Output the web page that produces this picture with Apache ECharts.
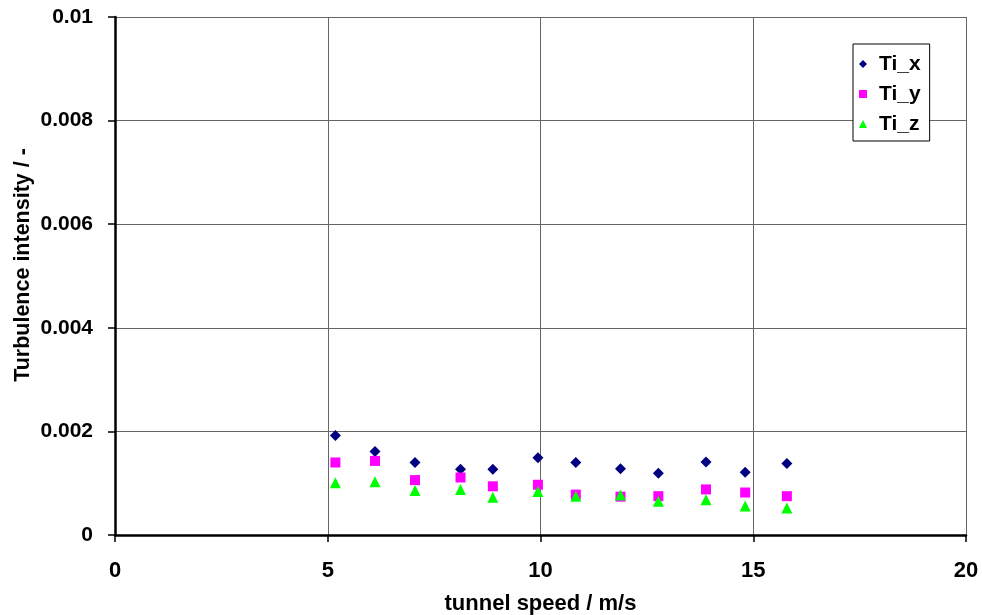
<!DOCTYPE html>
<html>
<head>
<meta charset="utf-8">
<script src="https://cdn.jsdelivr.net/npm/echarts@6/dist/echarts.min.js"></script>
<style>html,body{margin:0;padding:0;background:#fff;}#c{width:982px;height:615px;}</style>
</head>
<body>
<div id="c"></div>
<script>
const speeds = [5.18, 6.11, 7.05, 8.12, 8.88, 9.94, 10.83, 11.88, 12.77, 13.89, 14.81, 15.79];
const tiX = [0.00192, 0.00161, 0.00140, 0.00127, 0.00127, 0.00149, 0.00140, 0.00128, 0.00119, 0.00141, 0.00121, 0.00138];
const tiY = [0.00140, 0.00143, 0.00106, 0.00111, 0.00094, 0.00097, 0.00078, 0.00074, 0.00075, 0.00088, 0.00082, 0.00075];
const tiZ = [0.00101, 0.00103, 0.00086, 0.00088, 0.00073, 0.00084, 0.00075, 0.00077, 0.00065, 0.00068, 0.00056, 0.00052];
const seriesNames = ['Ti_x', 'Ti_y', 'Ti_z'];
const xTicks = [0, 5, 10, 15, 20];
const yTicks = ['0', '0.002', '0.004', '0.006', '0.008', '0.01'];

const font = 'Liberation Sans, Arial, sans-serif';
function pairs(ys){ return speeds.map((x,i)=>[x, ys[i]]); }

const chart = echarts.init(document.getElementById('c'), null, {renderer:'canvas'});
chart.setOption({
  animation: false,
  backgroundColor: '#fff',
  grid: {left: 115, right: 16, top: 17, bottom: 80, containLabel: false, outerBoundsMode: 'none'},
  xAxis: {
    type: 'value', min: 0, max: 20, interval: 5,
    name: 'tunnel speed / m/s', nameLocation: 'middle', nameGap: 58, nameMoveOverlap: false,
    nameTextStyle: {fontFamily: font, fontWeight: 'bold', fontSize: 22, color: '#000'},
    axisLine: {onZero: false, lineStyle: {color: '#000', width: 2.5}},
    axisTick: {show: true, length: 7, lineStyle: {color: '#000', width: 1.5}},
    axisLabel: {fontFamily: font, fontWeight: 'bold', fontSize: 22, color: '#000', margin: 25,
      formatter: function(v){ return String(xTicks[Math.round(v/5)]); }},
    splitLine: {show: true, lineStyle: {color: '#666', width: 1}}
  },
  yAxis: {
    type: 'value', min: 0, max: 0.01, interval: 0.002,
    name: 'Turbulence intensity / -', nameLocation: 'middle', nameGap: 81, nameMoveOverlap: false,
    nameTextStyle: {fontFamily: font, fontWeight: 'bold', fontSize: 21.5, color: '#000', padding: [0, 0, 0, 22]},
    axisLine: {onZero: false, lineStyle: {color: '#000', width: 2.5}},
    axisTick: {show: true, length: 7, lineStyle: {color: '#000', width: 1.5}},
    axisLabel: {fontFamily: font, fontWeight: 'bold', fontSize: 21, color: '#000', margin: 22,
      formatter: function(v){ return yTicks[Math.round(v/0.002)]; }},
    splitLine: {show: true, lineStyle: {color: '#666', width: 1}}
  },
  legend: {
    orient: 'vertical', left: 853, top: 44,
    backgroundColor: '#fff', borderColor: '#000', borderWidth: 1,
    padding: [8, 9, 5, 6], itemGap: 6, itemWidth: 8, itemHeight: 8,
    textStyle: {fontFamily: font, fontWeight: 'bold', fontSize: 21, color: '#000', lineHeight: 24, padding: [0, 0, 0, 7]},
    data: [
      {name: seriesNames[0], icon: 'diamond'},
      {name: seriesNames[1], icon: 'rect'},
      {name: seriesNames[2], icon: 'triangle'}
    ]
  },
  series: [
    {name: seriesNames[0], type: 'scatter', symbol: 'diamond', symbolSize: 11, itemStyle: {color: '#000080', opacity: 1}, data: pairs(tiX)},
    {name: seriesNames[1], type: 'scatter', symbol: 'rect', symbolSize: 10, itemStyle: {color: '#FF00FF', opacity: 1}, data: pairs(tiY)},
    {name: seriesNames[2], type: 'scatter', symbol: 'triangle', symbolSize: 11, itemStyle: {color: '#00FF00', opacity: 1}, data: pairs(tiZ)}
  ]
});
</script>
</body>
</html>
